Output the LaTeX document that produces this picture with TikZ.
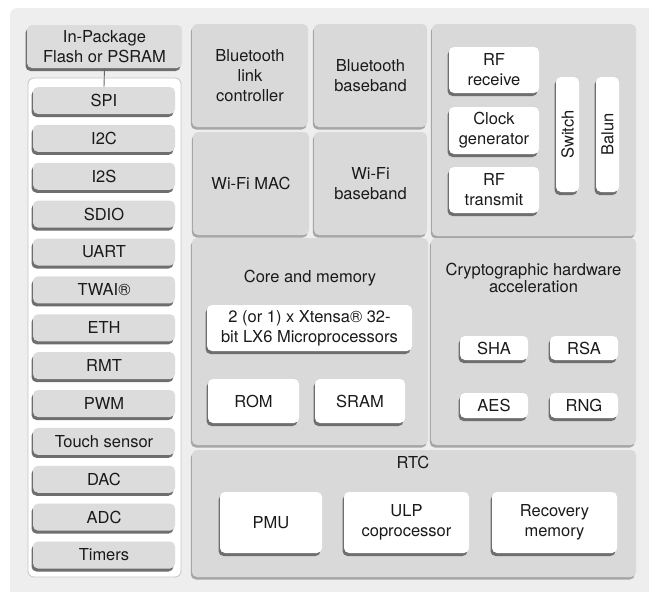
\documentclass[tikz,border=0pt]{standalone}
\usepackage{fontspec}
\setmainfont{TeX Gyre Heros}
\usetikzlibrary{shadows}
\definecolor{bgc}{HTML}{EEEEEE}
\definecolor{panelc}{HTML}{D9D9D9}
\definecolor{periphc}{HTML}{DCDCDC}
\definecolor{txt}{HTML}{1A1A1A}
\definecolor{shd}{HTML}{6E6E6E}
\definecolor{pshd}{HTML}{A6A6A6}
\definecolor{edgec}{HTML}{C4C4C4}
\begin{document}
\begin{tikzpicture}[x=1pt,y=-1pt,
  every node/.style={font=\fontsize{16.5}{20}\selectfont, text=txt, inner sep=0pt, align=center},
  panel/.style={rounded corners=5pt, fill=panelc, drop shadow={shadow xshift=-1.2pt, shadow yshift=-2.5pt, fill=pshd, opacity=1}},
  gbox/.style={rounded corners=5pt, fill=periphc, drop shadow={shadow xshift=-1.5pt, shadow yshift=-3pt, fill=shd, opacity=1}},
  wbox/.style={rounded corners=5pt, fill=white, drop shadow={shadow xshift=-1.5pt, shadow yshift=-3pt, fill=shd, opacity=1}},
  link/.style={draw=black!60, line width=0.9pt}
]
\useasboundingbox (0,0) rectangle (649,592);
\fill[bgc, rounded corners=7pt] (10,8) rectangle (660,604);

% left column
\node[gbox, minimum width=155pt, minimum height=43pt] (flash) at (104.5,46.5) {In-Package\\Flash or PSRAM};
\node[draw=edgec, fill=white, rounded corners=6pt, line width=0.8pt, minimum width=153pt, minimum height=499pt] (lpanel) at (104.5,327.5) {};
\foreach \t/\n [count=\i from 0] in {SPI/spi, I2C/iic, I2S/iis, SDIO/sdio, UART/uart, TWAI®/twai, ETH/eth, RMT/rmt, PWM/pwm, Touch sensor/touch, DAC/dac, ADC/adc, Timers/timers}
  \node[gbox, minimum width=142pt, minimum height=27pt] (\n) at (104, 100.5+37.875*\i) {\t};
\draw[link] (flash.south) -- (spi.north);

% radio blocks
\node[panel, minimum width=116pt, minimum height=103pt] (btlink) at (250,75.5) {Bluetooth\\link\\controller};
\node[panel, minimum width=113pt, minimum height=103pt] (btbase) at (370.5,75.5) {Bluetooth\\baseband};
\node[panel, minimum width=116pt, minimum height=103pt] (wifimac) at (251,183.5) {Wi-Fi MAC};
\node[panel, minimum width=113pt, minimum height=103pt] (wifibase) at (370.5,183.5) {Wi-Fi\\baseband};

% RF panel
\node[panel, minimum width=204pt, minimum height=212pt] (rfpanel) at (534,130) {};
\node[wbox, minimum width=90pt, minimum height=46pt] (rfrx) at (494,70) {RF\\receive};
\node[wbox, minimum width=90pt, minimum height=47pt] (clk) at (494,130.5) {Clock\\generator};
\node[wbox, minimum width=90pt, minimum height=46pt] (rftx) at (494,190) {RF\\transmit};
\node[wbox, minimum width=23pt, minimum height=115pt] (switch) at (567.5,134.5) {\rotatebox{90}{Switch}};
\node[wbox, minimum width=23pt, minimum height=115pt] (balun) at (607.5,134.5) {\rotatebox{90}{Balun}};

% core and memory
\node[panel, minimum width=236pt, minimum height=207pt] (core) at (310,341.5) {};
\node (coretitle) at (310,278) {Core and memory};
\node[wbox, minimum width=205pt, minimum height=46pt] (xtensa) at (309.5,328) {2 (or 1) x Xtensa® 32-\\bit LX6 Microprocessors};
\node[wbox, minimum width=91pt, minimum height=44pt] (rom) at (253.5,401) {ROM};
\node[wbox, minimum width=90pt, minimum height=44pt] (sram) at (360,401) {SRAM};

% crypto
\node[panel, minimum width=205pt, minimum height=207pt] (crypto) at (533.5,341.5) {};
\node[font=\fontsize{16.5}{15}\selectfont] (cryptotitle) at (533.5,278) {Cryptographic hardware\\acceleration};
\node[wbox, minimum width=68pt, minimum height=24pt] (sha) at (494,348) {SHA};
\node[wbox, minimum width=68pt, minimum height=24pt] (rsa) at (584,348) {RSA};
\node[wbox, minimum width=68pt, minimum height=25pt] (aes) at (494,405.5) {AES};
\node[wbox, minimum width=68pt, minimum height=25pt] (rng) at (584,405.5) {RNG};

% RTC
\node[panel, minimum width=444pt, minimum height=127pt] (rtc) at (414,513.5) {};
\node (rtctitle) at (413,462) {RTC};
\node[wbox, minimum width=102pt, minimum height=61pt] (pmu) at (271,522.5) {PMU};
\node[wbox, minimum width=125pt, minimum height=61pt] (ulp) at (406.5,522.5) {ULP\\coprocessor};
\node[wbox, minimum width=125pt, minimum height=61pt] (recovery) at (554.5,522.5) {Recovery\\memory};
\end{tikzpicture}
\end{document}
